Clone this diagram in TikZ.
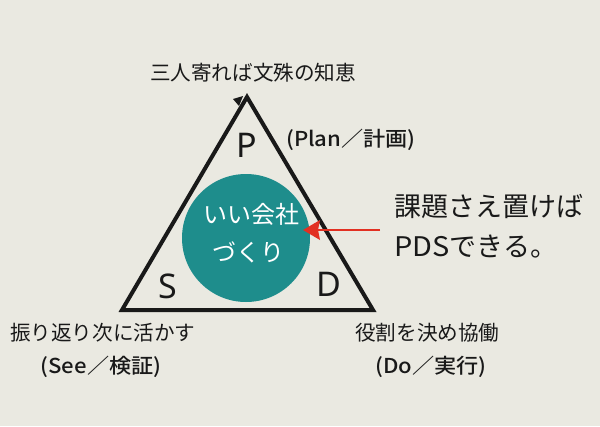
\documentclass[tikz,border=0pt]{standalone}
\usepackage{graphicx}
\usepackage{fontspec}
\setmainfont{Noto Sans}
\newfontfamily\jp{Noto Sans CJK JP}
\newfontfamily\jpm{Noto Sans CJK JP Medium}
\newfontfamily\jpl{Noto Sans CJK JP Light}
\definecolor{bg}{RGB}{234,233,225}
\definecolor{tealc}{RGB}{30,141,140}
\definecolor{redc}{RGB}{226,48,34}
\definecolor{ink}{RGB}{25,25,25}
\tikzset{
  lbl/.style={text=ink, inner sep=0pt, font=\jp\fontsize{20.6}{24}\selectfont},
  plbl/.style={text=ink, inner sep=0pt, font=\jpm\fontsize{20.5}{24}\selectfont},
  big/.style={text=ink, inner sep=0pt, font=\jp\fontsize{27}{32}\selectfont},
  letter/.style={text=ink, inner sep=0pt, font=\fontsize{34}{36}\selectfont},
  wtext/.style={text=white, inner sep=0pt, font=\jp\fontsize{24}{28}\selectfont},
}
\newcommand{\wider}[1]{\scalebox{1.08}[1]{#1}}
\begin{document}
\begin{tikzpicture}[x=1pt,y=-1pt]
\fill[bg] (0,0) rectangle (600,426);
\useasboundingbox (0,0) rectangle (600,426);
% circle
\fill[tealc] (246,238) circle (64);
% triangle
\coordinate (A) at (247,97);
\coordinate (L) at (122,310);
\coordinate (R) at (373,310);
\draw[line width=4pt, line join=miter, ink] (A) -- (R) -- (L) -- cycle;
\fill[ink] (233,99) -- (243,96) -- (239,106) -- cycle;
% letters
\node[letter] (P) at (247,145) {P};
\node[letter] (S) at (168,286) {S};
\node[letter] (D) at (329,284) {D};
% circle text
\node[wtext] (t1) at (251,214) {いい会社};
\node[wtext] (t2) at (248,252) {づくり};
% red arrow
\coordinate (tail) at (380,230);
\coordinate (head) at (303,230);
\draw[redc, line width=2.5pt] (tail) -- (318,230);
\fill[redc] (head) -- (320,220) -- (318,230) -- (320,240) -- cycle;
% labels
\node[lbl] (top) at (253,73) {三人寄れば文殊の知恵};
\node[plbl] (plan) at (351,140) {\wider{(Plan／計画)}};
\node[big, anchor=west] (r1) at (394,207) {課題さえ置けば};
\node[big, anchor=west] (r2) at (394,247) {\scalebox{1.07}[1]{PDS}できる。};
\node[lbl, anchor=west] (see1) at (10,333) {振り返り次に活かす};
\node[plbl] (see2) at (101,367) {\wider{(See／検証)}};
\node[lbl, anchor=west] (do1) at (355,333) {役割を決め協働};
\node[plbl] (do2) at (431,367) {\wider{(Do／実行)}};
\end{tikzpicture}
\end{document}
